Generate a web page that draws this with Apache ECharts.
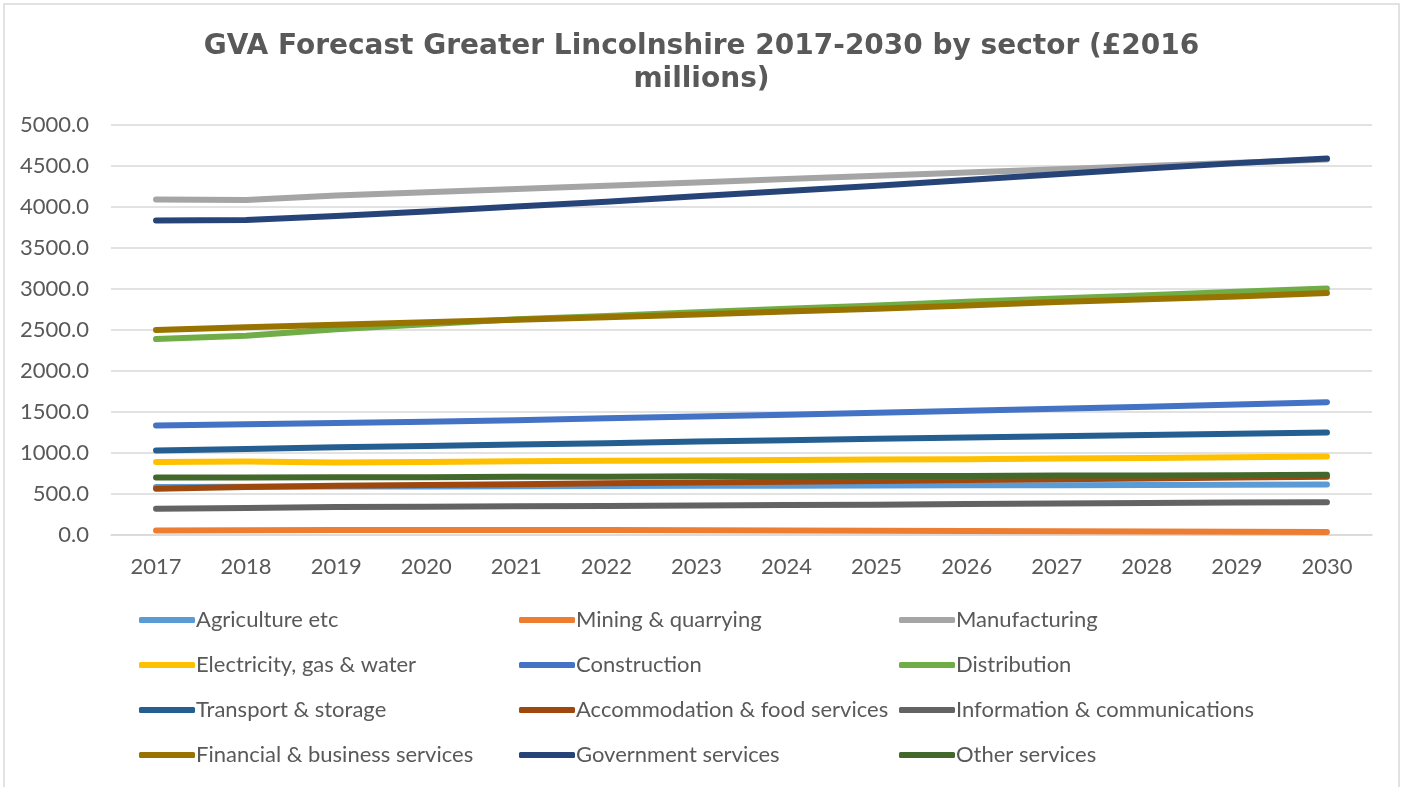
<!DOCTYPE html>
<html>
<head>
<meta charset="utf-8">
<script src="https://cdn.jsdelivr.net/npm/echarts@6/dist/echarts.min.js"></script>
<style>
html,body{margin:0;padding:0;background:#fff;}
#chart{width:1403px;height:787px;}
</style>
</head>
<body>
<div id="chart"></div>
<script>
const years = ['2017','2018','2019','2020','2021','2022','2023','2024','2025','2026','2027','2028','2029','2030'];
const yTicks = [0, 500, 1000, 1500, 2000, 2500, 3000, 3500, 4000, 4500, 5000];

const agriculture   = [585, 587, 590, 592, 595, 597, 600, 602, 604, 606, 608, 610, 612, 615];
const mining        = [55, 58, 60, 62, 62, 60, 58, 55, 52, 50, 47, 44, 41, 38];
const manufacturing = [4090, 4085, 4140, 4180, 4220, 4260, 4300, 4340, 4380, 4420, 4460, 4500, 4540, 4580];
const electricity   = [890, 895, 885, 890, 900, 905, 910, 915, 920, 925, 932, 940, 948, 958];
const construction  = [1335, 1350, 1365, 1380, 1400, 1425, 1445, 1465, 1490, 1515, 1540, 1565, 1590, 1620];
const distribution  = [2390, 2430, 2510, 2570, 2630, 2670, 2715, 2760, 2800, 2845, 2885, 2925, 2965, 3005];
const transport     = [1030, 1050, 1070, 1085, 1105, 1120, 1140, 1155, 1175, 1190, 1205, 1220, 1235, 1250];
const accommodation = [565, 585, 600, 610, 620, 630, 640, 650, 660, 670, 680, 690, 700, 710];
const information   = [320, 330, 340, 345, 350, 355, 360, 365, 370, 377, 384, 390, 395, 400];
const financial     = [2500, 2535, 2565, 2595, 2625, 2655, 2690, 2725, 2760, 2800, 2840, 2875, 2910, 2950];
const government    = [3835, 3840, 3890, 3945, 4005, 4065, 4130, 4195, 4260, 4330, 4400, 4470, 4535, 4590];
const other         = [700, 700, 705, 705, 710, 710, 715, 715, 720, 720, 725, 725, 730, 735];

const seriesNames = ['Agriculture etc','Mining & quarrying','Manufacturing','Electricity, gas & water','Construction','Distribution','Transport & storage','Accommodation & food services','Information & communications','Financial & business services','Government services','Other services'];
const seriesData = [agriculture, mining, manufacturing, electricity, construction, distribution, transport, accommodation, information, financial, government, other];
const seriesColors = ['#5B9BD5','#ED7D31','#A5A5A5','#FFC000','#4472C4','#70AD47','#255E91','#9E480E','#636363','#997300','#264478','#43682B'];

const textColor = '#595959';
const font = 'Lato';

function legendCol(left, names) {
  return {
    orient: 'vertical',
    left: left,
    top: 603,
    itemWidth: 56,
    itemHeight: 6,
    itemGap: 21,
    icon: 'roundRect',
    data: names,
    textStyle: {color: textColor, fontFamily: font, fontSize: 22, lineHeight: 24, padding: [0,0,0,-4]},
    selectedMode: false
  };
}

const chart = echarts.init(document.getElementById('chart'), null, {renderer: 'canvas'});
chart.setOption({
  backgroundColor: '#ffffff',
  animation: false,
  graphic: [{
    type: 'rect',
    shape: {x: 4, y: 4, width: 1395, height: 800},
    style: {fill: 'none', stroke: '#d9d9d9', lineWidth: 1.5},
    silent: true
  }],
  title: {
    text: 'GVA Forecast Greater Lincolnshire 2017-2030 by sector (£2016\nmillions)',
    left: 'center',
    top: 25,
    textStyle: {color: textColor, fontFamily: 'DejaVu Sans', fontWeight: 'bold', fontSize: 28, lineHeight: 33, align: 'center'}
  },
  legend: [
    legendCol(134, [seriesNames[0], seriesNames[3], seriesNames[6], seriesNames[9]]),
    legendCol(514, [seriesNames[1], seriesNames[4], seriesNames[7], seriesNames[10]]),
    legendCol(894, [seriesNames[2], seriesNames[5], seriesNames[8], seriesNames[11]])
  ],
  grid: {left: 111, right: 31, top: 125, bottom: 252, containLabel: false},
  xAxis: {
    type: 'category',
    data: years,
    boundaryGap: true,
    axisLine: {show: true, lineStyle: {color: '#d9d9d9', width: 1.5}},
    axisTick: {show: false},
    axisLabel: {color: textColor, fontFamily: font, fontSize: 22, margin: 21}
  },
  yAxis: {
    type: 'value',
    min: yTicks[0],
    max: yTicks[yTicks.length - 1],
    interval: yTicks[1] - yTicks[0],
    axisLine: {show: false},
    axisTick: {show: false},
    splitLine: {lineStyle: {color: '#d9d9d9', width: 1.5}},
    axisLabel: {color: textColor, fontFamily: font, fontSize: 22, margin: 22, formatter: v => v.toFixed(1)}
  },
  series: seriesNames.map((name, i) => ({
    name: name,
    type: 'line',
    data: seriesData[i],
    symbol: 'none',
    smooth: false,
    color: seriesColors[i],
    lineStyle: {color: seriesColors[i], width: 6, cap: 'round', join: 'round'},
    itemStyle: {color: seriesColors[i]},
    emphasis: {disabled: true},
    z: 2 + i
  }))
});
</script>
</body>
</html>
